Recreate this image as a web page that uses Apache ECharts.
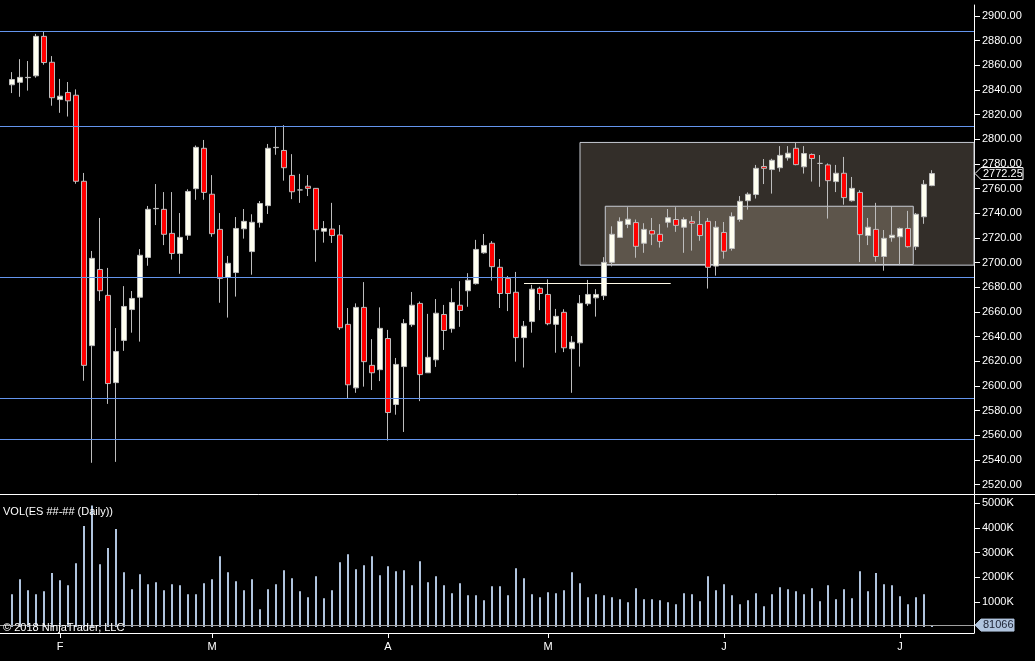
<!DOCTYPE html>
<html>
<head>
<meta charset="utf-8">
<script src="https://cdn.jsdelivr.net/npm/echarts@6/dist/echarts.min.js"></script>
<style>
html, body { margin: 0; padding: 0; background: #000; }
#chart { width: 1035px; height: 661px; }
</style>
</head>
<body>
<div id="chart"></div>
<script>
/* daily bars, index 0 = first bar on the left */
var opens = [
    2844.25, 2846.25, 2850, 2851.5, 2883.5, 2862.5, 2832.25, 2838, 2835.75, 2766,
    2632.75, 2694.5, 2673.5, 2602.75, 2637, 2662, 2672, 2704.25, 2743.75, 2743.25,
    2723.75, 2707.5, 2722.25, 2760, 2792.75, 2755.5, 2727, 2688, 2692, 2727.5,
    2709, 2732.5, 2746.25, 2793.25, 2791, 2770.75, 2759, 2762, 2760.25, 2725.5,
    2727.25, 2722.5, 2650, 2598.5, 2663.75, 2616.75, 2613.25, 2638.5, 2585, 2615.75,
    2649.75, 2667, 2610.75, 2621.25, 2658, 2646.5, 2665.5, 2677.25, 2683, 2708,
    2715.75, 2696.25, 2687.25, 2676, 2639.25, 2652.25, 2679.25, 2674.25, 2650, 2659.75,
    2630.25, 2635, 2666.75, 2671.5, 2673.25, 2700.25, 2720.5, 2731, 2732.5, 2715.75,
    2726, 2723, 2732.75, 2735, 2728.75, 2733.5, 2731, 2733.5, 2697.25, 2724.5,
    2711.5, 2735, 2750.25, 2755.25, 2778, 2775.5, 2777, 2785, 2792.75, 2777.75,
    2787.75, 2780.5, 2779.25, 2765.75, 2772.5, 2750.25, 2757, 2722, 2727, 2705,
    2720.25, 2721, 2727.75, 2713, 2737.25, 2762.5
];
var closes = [
    2848.5, 2850.25, 2850.25, 2883.5, 2862.25, 2833.75, 2835, 2831.25, 2766, 2616.75,
    2703.5, 2677.25, 2602, 2628, 2664.5, 2671, 2706, 2743.25, 2744, 2723,
    2707.5, 2720.5, 2757.75, 2793.5, 2757, 2723.5, 2687.25, 2699.5, 2727.75, 2733.5,
    2732.75, 2748, 2792.75, 2793.5, 2777, 2757.5, 2759, 2760.25, 2726.75, 2727.75,
    2722, 2647.25, 2601, 2663.75, 2619.75, 2610.75, 2646.75, 2578.5, 2617.5, 2650.75,
    2665.5, 2609.25, 2623.25, 2659, 2645, 2667.75, 2661.25, 2685.75, 2710.75, 2714,
    2696.75, 2675, 2675, 2639.25, 2648.5, 2678.5, 2675, 2650.5, 2656.5, 2631,
    2635.5, 2667, 2674.25, 2674.25, 2700.25, 2723, 2733.5, 2735.25, 2713.25, 2727,
    2723.25, 2717.25, 2736.5, 2730.25, 2735, 2732, 2722, 2696.25, 2728.75, 2709.25,
    2737.5, 2749.75, 2755.5, 2776.5, 2776.5, 2783, 2787, 2788.75, 2779.5, 2788.5,
    2784.5, 2780.5, 2766.5, 2772.5, 2752.75, 2760.25, 2722.75, 2728.75, 2705, 2719.75,
    2722.25, 2727.75, 2713, 2739.25, 2763.5, 2772.25
];
var lows = [
    2837.5, 2834.5, 2839.5, 2850, 2860.5, 2827.25, 2821.5, 2818.5, 2764, 2604.25,
    2537.75, 2669, 2585.5, 2538.5, 2628.5, 2643.25, 2636, 2697.5, 2730.5, 2714.25,
    2702.5, 2691, 2718.5, 2751, 2751, 2721, 2667.5, 2655.5, 2672.5, 2719.5,
    2690.25, 2728.5, 2739.5, 2787.5, 2766.5, 2751.5, 2748.5, 2754, 2700.75, 2716.25,
    2716, 2645.5, 2590, 2594.5, 2599.5, 2596.75, 2604, 2555.75, 2576.75, 2562.75,
    2648, 2587.75, 2610.75, 2615.5, 2629.25, 2643.25, 2648, 2664.25, 2682.25, 2707.25,
    2685.5, 2663.25, 2660.75, 2619.75, 2615, 2643.25, 2661.5, 2649.25, 2627, 2627.5,
    2594.5, 2615.75, 2665, 2656.25, 2669.75, 2697, 2720.5, 2728, 2704, 2708,
    2714.25, 2712.25, 2728.5, 2725, 2708, 2709.75, 2717.75, 2679, 2689.5, 2703.25,
    2709.75, 2733.25, 2743, 2752, 2763.75, 2756, 2773.75, 2782.75, 2779, 2772.25,
    2765.75, 2761.5, 2735.75, 2757.25, 2747, 2749.5, 2700.5, 2714.25, 2700.75, 2693.5,
    2717, 2698, 2712.25, 2710.25, 2731.5, 2762
];
var highs = [
    2854.5, 2865, 2863.5, 2885.5, 2887.5, 2867.5, 2849, 2846.5, 2840.5, 2772.75,
    2709.5, 2736.25, 2695.75, 2647, 2681, 2677, 2711, 2746, 2763.75, 2757.25,
    2757.25, 2740.25, 2759.5, 2795, 2799.5, 2771, 2740.25, 2705.5, 2737, 2743.5,
    2739.25, 2750, 2796.25, 2810.5, 2811.5, 2788, 2772, 2771, 2760.5, 2733.75,
    2748.5, 2730.5, 2663.25, 2667, 2684.25, 2638, 2663.75, 2645.5, 2622.75, 2654.25,
    2676.25, 2668.5, 2658.5, 2670.5, 2665.75, 2679.25, 2685, 2691.5, 2718.5, 2723.25,
    2717.5, 2703, 2689.25, 2692.5, 2652.75, 2682, 2680.5, 2686.5, 2662.5, 2662.25,
    2640.5, 2673.75, 2686, 2678.5, 2704.5, 2729.5, 2736.75, 2745, 2735, 2732,
    2736.25, 2731.25, 2743.5, 2745, 2736.75, 2737.75, 2742, 2736.25, 2733.75, 2733,
    2740.75, 2754, 2757, 2779.25, 2784, 2784.25, 2794.5, 2794.5, 2797.5, 2794.5,
    2788.5, 2787.25, 2780.5, 2779.25, 2785.75, 2769.5, 2758.75, 2736.25, 2748.5, 2726.5,
    2745.5, 2728.5, 2742, 2740.25, 2767, 2775
];
/* volume in thousands of contracts */
var volumes = [
    1323, 1929, 1485, 1323, 1445, 2175, 1889, 1687, 2576, 4071,
    4900, 2535, 3182, 3950, 2212, 1525, 2131, 1727, 1808, 1485,
    1727, 1687, 1323, 1323, 1768, 1929, 2859, 2212, 1848, 1485,
    1929, 717, 1525, 1727, 2293, 1970, 1445, 1202, 2051, 1162,
    1485, 2616, 2939, 2333, 2495, 2859, 2091, 2455, 2253, 2293,
    1687, 2657, 1808, 2051, 1687, 1364, 1768, 1283, 1283, 1081,
    1646, 1646, 1283, 2374, 1970, 1323, 1202, 1404, 1364, 1485,
    2212, 1768, 1202, 1323, 1283, 1202, 1121, 1000, 1566, 1121,
    1121, 1081, 1000, 919, 1364, 1323, 1040, 2051, 1485, 1727,
    1283, 919, 1081, 1364, 838, 1323, 1606, 1525, 1445, 1323,
    1566, 1040, 1687, 1121, 1525, 1162, 2253, 1445, 2175, 1727,
    1687, 1242, 919, 1202, 1323, 81.066
];
var lastVolumeText = '81066';

/* first bar of each month, and its letter */
var monthStarts = [6, 25, 47, 67, 89, 111];
var monthLabels = ['F', 'M', 'A', 'M', 'J', 'J'];

var priceTicks = [2520, 2540, 2560, 2580, 2600, 2620, 2640, 2660, 2680, 2700,
    2720, 2740, 2760, 2780, 2800, 2820, 2840, 2860, 2880, 2900];
var volumeTicks = [1000, 2000, 3000, 4000, 5000];

/* drawn objects on the price panel */
var hLines = [2887.75, 2810.75, 2688.5, 2590.25, 2557];
var segmentLine = { from: 64, to: 82.34, price: 2683.3 };
var outerBox = { x1: 71, x2: 120.25, top: 2797.5, bottom: 2698 };
var innerBox = { x1: 74.16, x2: 112.66, top: 2745.75, bottom: 2698.5 };

/************************    数据整理    ****************************/
var candleData = opens.map(function (o, i) {
    return [i, o, closes[i], lows[i], highs[i]];
});
var volData = volumes.map(function (v, i) {
    return [i, v];
});

var font = '"Liberation Sans", Arial, sans-serif';
var xMin = -1.5, xMax = 120.25;

var chart = echarts.init(document.getElementById('chart'));

var option = {
    backgroundColor: '#000',
    animation: false,
    grid: [
        { left: 0, top: 5, width: 974, height: 489 },
        { left: 0, top: 494, width: 974, height: 139 }
    ],
    xAxis: [
        { type: 'value', gridIndex: 0, min: xMin, max: xMax, show: false },
        {
            type: 'value', gridIndex: 1, min: xMin, max: xMax,
            axisLine: { show: true, onZero: false, lineStyle: { color: '#fff', width: 1 } },
            axisTick: { show: true, customValues: monthStarts, length: 5, lineStyle: { color: '#fff' } },
            axisLabel: {
                customValues: monthStarts,
                color: '#fff', fontSize: 11, fontFamily: font, margin: 8,
                formatter: function (v) {
                    var k = monthStarts.indexOf(Math.round(v));
                    return k >= 0 ? monthLabels[k] : '';
                }
            },
            splitLine: { show: false }
        }
    ],
    yAxis: [
        {
            type: 'value', gridIndex: 0, position: 'right', min: 2512.45, max: 2908.92,
            axisLine: { show: true, onZero: false, lineStyle: { color: '#fff' } },
            axisTick: { show: true, customValues: priceTicks, length: 6, lineStyle: { color: '#fff' } },
            axisLabel: {
                customValues: priceTicks, color: '#fff', fontSize: 11, fontFamily: font, margin: 8,
                formatter: function (v) { return v.toFixed(2); }
            },
            splitLine: { show: false }
        },
        {
            type: 'value', gridIndex: 1, position: 'right', min: -237.6, max: 5362.5,
            axisLine: { show: true, onZero: false, lineStyle: { color: '#fff' } },
            axisTick: { show: true, customValues: volumeTicks, length: 6, lineStyle: { color: '#fff' } },
            axisLabel: {
                customValues: volumeTicks, color: '#fff', fontSize: 11, fontFamily: font, margin: 8,
                formatter: function (v) { return v + 'K'; }
            },
            splitLine: { show: false }
        }
    ],
    series: [
        {
            type: 'candlestick',
            xAxisIndex: 0,
            yAxisIndex: 0,
            data: candleData,
            barWidth: 5,
            itemStyle: {
                color: '#fffff0',
                color0: '#ff0000',
                borderColor: '#bdbdbd',
                borderColor0: '#bdbdbd',
                borderWidth: 1
            },
            markArea: {
                silent: true,
                data: [
                    [{ coord: [outerBox.x1, outerBox.top], itemStyle: { color: '#332e29', borderColor: '#c8ccd4', borderWidth: 1 } },
                     { coord: [outerBox.x2, outerBox.bottom] }],
                    [{ coord: [innerBox.x1, innerBox.top], itemStyle: { color: '#5d554b', borderColor: '#c8ccd4', borderWidth: 1 } },
                     { coord: [innerBox.x2, innerBox.bottom] }]
                ]
            },
            markLine: {
                silent: true,
                symbol: 'none',
                label: { show: false },
                lineStyle: { color: '#6495ed', width: 1, type: 'solid' },
                emphasis: { disabled: true },
                data: hLines.map(function (p) { return { yAxis: p }; }).concat([
                    [{ coord: [segmentLine.from, segmentLine.price], lineStyle: { color: '#fffbe8', width: 1, type: 'solid' } },
                     { coord: [segmentLine.to, segmentLine.price] }]
                ])
            }
        },
        {
            type: 'bar',
            xAxisIndex: 1,
            yAxisIndex: 1,
            data: volData,
            barWidth: 2,
            itemStyle: { color: '#b0c4de' },
            markLine: {
                silent: true,
                symbol: 'none',
                label: { show: false },
                lineStyle: { color: '#a0a0a0', width: 1, type: 'solid' },
                data: [{ yAxis: volumes[volumes.length - 1] }]
            }
        }
    ]
};
chart.setOption(option);

/*************************    价签 / 文字   ****************************/
var lastClose = closes[closes.length - 1];
var yPrice = chart.convertToPixel({ yAxisIndex: 0 }, lastClose);
var yVol = chart.convertToPixel({ yAxisIndex: 1 }, volumes[volumes.length - 1]);

function tag(y, w, fill, stroke, text, textColor) {
    return [
        {
            type: 'polygon', z: 100,
            shape: { points: [[975, y], [981, y - 6], [975 + w, y - 6], [975 + w, y + 6], [981, y + 6]] },
            style: { fill: fill, stroke: stroke, lineWidth: 1 }
        },
        {
            type: 'text', z: 101, x: 983, y: y,
            style: { text: text, fill: textColor, font: '11px ' + font, verticalAlign: 'middle' }
        }
    ];
}

var graphics = [
    { type: 'line', z: 50, shape: { x1: 0, y1: 494.5, x2: 1035, y2: 494.5 }, style: { stroke: '#fff', lineWidth: 1 } },
    { type: 'text', z: 50, x: 3, y: 512, style: { text: 'VOL(ES ##-## (Daily))', fill: '#fff', font: '11px ' + font, verticalAlign: 'middle' } },
    { type: 'text', z: 50, x: 3, y: 628, style: { text: '© 2018 NinjaTrader, LLC', fill: '#fff', font: '11px ' + font, verticalAlign: 'middle' } }
].concat(tag(yPrice, 48, '#000', '#fff', lastClose.toFixed(2), '#fff'))
 .concat(tag(yVol, 39, '#b0c4de', '#b0c4de', lastVolumeText, '#1c2233'));

chart.setOption({ graphic: graphics });
</script>
</body>
</html>
